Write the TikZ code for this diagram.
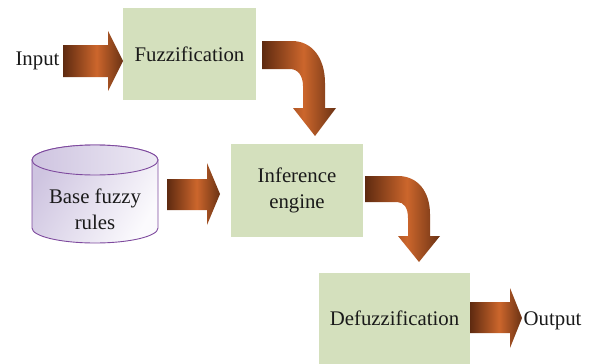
\documentclass[tikz,border=0pt]{standalone}
\usepackage{fontspec}
\setmainfont{Liberation Serif}
\usetikzlibrary{calc}
\definecolor{bdark}{HTML}{5E2A10}
\definecolor{borange}{HTML}{CC662C}
\definecolor{bdarkr}{HTML}{6A3214}
\definecolor{boxfill}{HTML}{D4E0BD}
\definecolor{cylline}{HTML}{7E4A9E}
\definecolor{cyltop}{HTML}{CEC4E0}
\definecolor{cylbot}{HTML}{FBFAFD}
\definecolor{txt}{HTML}{1A1A1A}
\pgfdeclarehorizontalshading{brarrow}{100bp}{color(0bp)=(bdark); color(25bp)=(bdark); color(53bp)=(borange); color(75bp)=(bdarkr); color(100bp)=(bdarkr)}
\begin{document}
\begin{tikzpicture}[x=1pt,y=-1pt,
  every node/.style={text=txt, font=\fontsize{20.8}{26}\selectfont},
  box/.style={fill=boxfill, draw=none, align=center, inner sep=0pt},
  lbl/.style={inner sep=0pt},
  barrowshade/.style={shading=brarrow}]
\useasboundingbox (0,0) rectangle (595,364);
% boxes
\node[box, minimum width=133pt, minimum height=92pt] (fuzz) at (189.5,54) {Fuzzification};
\node[box, minimum width=132pt, minimum height=93pt] (inf) at (297,190.5) {Inference\\engine};
\node[box, minimum width=151pt, minimum height=91pt] (defuzz) at (394.5,318.5) {Defuzzification};
% cylinder
\shade[left color=cyltop, right color=cylbot, shading angle=60, draw=cylline, line width=0.9pt]
  (32,160) -- (32,228) arc[start angle=180, end angle=360, x radius=63pt, y radius=15pt]
  -- (158,160) arc[start angle=0, end angle=180, x radius=63pt, y radius=15pt] -- cycle;
\shade[left color=cyltop, right color=cylbot!70!cyltop, draw=cylline, line width=0.9pt]
  (95,160) ellipse [x radius=63pt, y radius=15pt];
\node[align=center, inner sep=0pt] (base) at (95,209) {Base fuzzy\\rules};
% labels
\node[lbl, anchor=base] (in) at (37.5,65) {Input};
\node[lbl, anchor=base west] (out) at (523.5,325) {Output};
% straight arrows
\shade[barrowshade] (63,45) -- (108,45) -- (108,31) -- (123,61) -- (108,91) -- (108,77) -- (63,77) -- cycle;
\shade[barrowshade] (167,179) -- (207,179) -- (207,163) -- (220,194) -- (207,225) -- (207,210) -- (167,210) -- cycle;
\shade[barrowshade] (470,302) -- (510,302) -- (510,288) -- (522,318) -- (510,348) -- (510,333) -- (470,333) -- cycle;
% curved arrows
\shade[barrowshade] (262,41) -- (292,41) .. controls (312,41) and (325,58) .. (325,83) -- (325,108)
  -- (336,108) -- (315,136) -- (293,108) -- (303,108) -- (303,86)
  .. controls (303,76) and (298,69) .. (290,69) -- (262,69) -- cycle;
\shade[barrowshade] (365,176) -- (398,176) .. controls (418,176) and (430,192) .. (430,214) -- (430,236)
  -- (440,236) -- (419,262) -- (398,236) -- (408,236) -- (408,218)
  .. controls (408,208) and (404,202) .. (397,202) -- (365,202) -- cycle;
\end{tikzpicture}
\end{document}
